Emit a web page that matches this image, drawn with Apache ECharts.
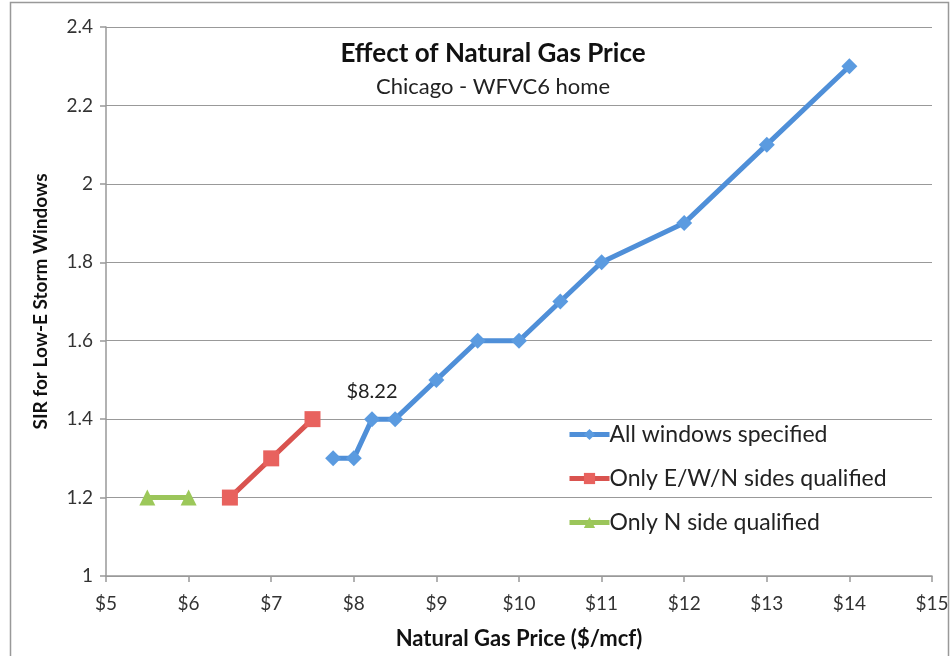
<!DOCTYPE html>
<html>
<head>
<meta charset="utf-8">
<script src="https://cdn.jsdelivr.net/npm/echarts@6/dist/echarts.min.js"></script>
<style>
  html, body { margin: 0; padding: 0; background: #fff; }
  #chart { width: 952px; height: 656px; }
</style>
</head>
<body>
<div id="chart"></div>
<script>
// gas price ($/mcf) and SIR values
const allWindowsPrice = [7.75, 8, 8.22, 8.5, 9, 9.5, 10, 10.5, 11, 12, 13, 14];
const allWindowsSir = [1.3, 1.3, 1.4, 1.4, 1.5, 1.6, 1.6, 1.7, 1.8, 1.9, 2.1, 2.3];
const ewnPrice = [6.5, 7, 7.5];
const ewnSir = [1.2, 1.3, 1.4];
const nOnlyPrice = [5.5, 6];
const nOnlySir = [1.2, 1.2];
const labelledPrice = 8.22;

const font = 'Lato, "Open Sans", sans-serif';

function pairs(xs, ys) {
  return xs.map((x, i) => [x, ys[i]]);
}

const chart = echarts.init(document.getElementById('chart'));

const option = {
  animation: false,
  textStyle: { fontFamily: font },
  title: {
    text: 'Effect of Natural Gas Price',
    subtext: 'Chicago - WFVC6 home',
    left: 488,
    textAlign: 'center',
    top: 36,
    itemGap: 9,
    textStyle: { fontFamily: font, fontSize: 26, fontWeight: 'bold', color: '#111' },
    subtextStyle: { fontFamily: font, fontSize: 22, color: '#222' }
  },
  legend: {
    orient: 'vertical',
    left: 562,
    top: 418,
    itemGap: 21,
    itemWidth: 40,
    itemHeight: 14,
    lineStyle: { width: 5 },
    textStyle: { fontFamily: font, fontSize: 23, color: '#222', padding: [0, 0, 0, -5] },
    data: ['All windows specified', 'Only E/W/N sides qualified', 'Only N side qualified']
  },
  grid: { left: 106, right: 20, top: 27, bottom: 80 },
  xAxis: {
    type: 'value',
    min: 5,
    max: 15,
    interval: 1,
    name: 'Natural Gas Price ($/mcf)',
    nameLocation: 'middle',
    nameGap: 52,
    nameTextStyle: { fontFamily: font, fontSize: 22, fontWeight: 'bold', color: '#111' },
    axisLine: { lineStyle: { color: '#999', width: 1.5 } },
    axisTick: { show: true, length: 6, lineStyle: { color: '#999', width: 1.5 } },
    axisLabel: { formatter: v => '$' + v, fontSize: 19, color: '#333', margin: 18 },
    splitLine: { show: false }
  },
  yAxis: {
    type: 'value',
    min: 1,
    max: 2.4,
    interval: 0.2,
    name: 'SIR for Low-E Storm Windows',
    nameLocation: 'middle',
    nameGap: 56,
    nameTextStyle: { fontFamily: font, fontSize: 19, fontWeight: 'bold', color: '#111' },
    axisLine: { show: true, lineStyle: { color: '#999', width: 1.5 } },
    axisTick: { show: true, length: 6, lineStyle: { color: '#999', width: 1.5 } },
    axisLabel: { formatter: v => String(Math.round(v * 10) / 10), fontSize: 19, color: '#333', margin: 13 },
    splitLine: { lineStyle: { color: '#999', width: 1 } }
  },
  graphic: [{
    type: 'rect',
    shape: { x: 10.5, y: 2.5, width: 938, height: 670 },
    style: { fill: 'none', stroke: '#999', lineWidth: 1.5 },
    silent: true
  }],
  series: [
    {
      name: 'All windows specified',
      type: 'line',
      data: pairs(allWindowsPrice, allWindowsSir),
      symbol: 'diamond',
      symbolSize: 16,
      lineStyle: { color: '#4F8FD8', width: 5 },
      itemStyle: { color: '#5B9BE0' },
      label: {
        show: true,
        position: 'top',
        distance: 10,
        fontSize: 20,
        color: '#222',
        formatter: p => (p.value[0] === labelledPrice ? '$' + labelledPrice.toFixed(2) : '')
      }
    },
    {
      name: 'Only E/W/N sides qualified',
      type: 'line',
      data: pairs(ewnPrice, ewnSir),
      symbol: 'rect',
      symbolSize: 16,
      lineStyle: { color: '#D9534F', width: 5 },
      itemStyle: { color: '#E8625E' }
    },
    {
      name: 'Only N side qualified',
      type: 'line',
      data: pairs(nOnlyPrice, nOnlySir),
      symbol: 'triangle',
      symbolSize: 16,
      lineStyle: { color: '#9BC55A', width: 5 },
      itemStyle: { color: '#9CC85A' }
    }
  ]
};

chart.setOption(option);
</script>
</body>
</html>
